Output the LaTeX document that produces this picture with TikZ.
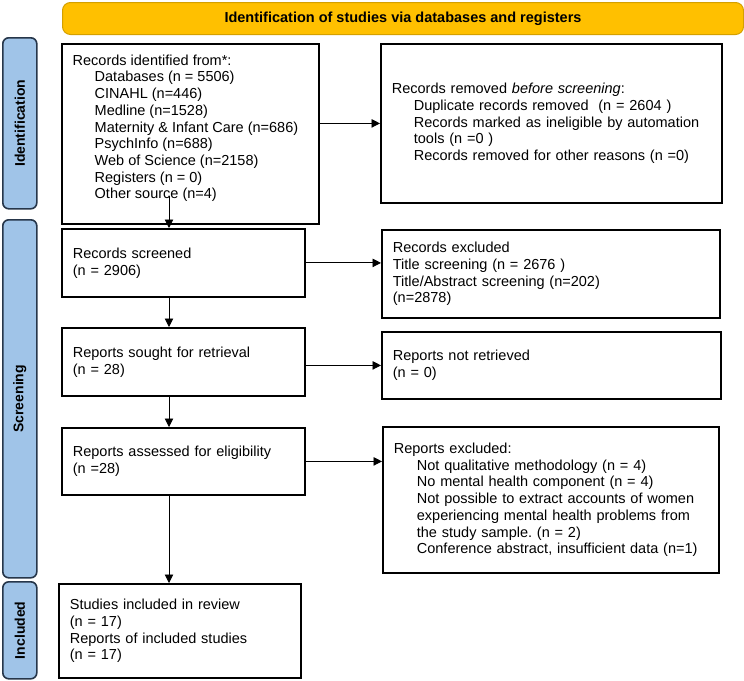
\documentclass[tikz,border=0pt]{standalone}
\usepackage{fontspec}
\setmainfont{Liberation Sans}
\usetikzlibrary{arrows.meta,calc}
\definecolor{bannerfill}{HTML}{FFC000}
\definecolor{bannerline}{HTML}{D4A000}
\definecolor{barfill}{HTML}{A0C4E8}
\definecolor{barline}{HTML}{26364A}
\frenchspacing
\begin{document}
\begin{tikzpicture}[x=1pt,y=-1pt,
  font=\fontsize{14.5}{16.7}\selectfont,
  box/.style={draw=black, line width=1.8pt, anchor=north west, inner xsep=11pt, inner ysep=3pt, align=left},
  bar/.style={draw=barline, fill=barfill, line width=1.6pt, rounded corners=6pt, anchor=north west, inner sep=0pt},
  bartext/.style={rotate=90, font=\fontsize{14}{16}\selectfont\bfseries, inner sep=0pt},
  arr/.style={line width=0.9pt, -{Triangle[length=8.5pt,width=8.5pt]}},
  txt/.style={anchor=north west, align=left, inner sep=0pt}
]
\useasboundingbox (0,0) rectangle (744,680);

% banner
\node[draw=bannerline, fill=bannerfill, line width=1pt, rounded corners=8pt,
      minimum width=681pt, minimum height=32pt, anchor=north west, inner sep=0pt,
      font=\fontsize{14.5}{16.7}\selectfont\bfseries] (banner) at (62,2)
  {Identification of studies via databases and registers};

% side bars
\node[bar, minimum width=34pt, minimum height=171pt] (idbar) at (2,37) {};
\node[bartext] (idlab) at (idbar.center) {Identification};
\node[bar, minimum width=34pt, minimum height=358pt] (scbar) at (2,219) {};
\node[bartext] (sclab) at (scbar.center) {Screening};
\node[bar, minimum width=34pt, minimum height=97pt] (inbar) at (2,581) {};
\node[bartext] (inlab) at (inbar.center) {Included};

% identification
\node[box, minimum width=257pt, minimum height=180pt] (b1) at (61,43) {};
\node[txt] (b1t) at (72.5,54.5) {Records identified from*:\\
\hspace*{22pt}Databases (n = 5506)\\
\hspace*{22pt}CINAHL (n=446)\\
\hspace*{22pt}Medline (n=1528)\\
\hspace*{22pt}Maternity \& Infant Care (n=686)\\
\hspace*{22pt}PsychInfo (n=688)\\
\hspace*{22pt}Web of Science (n=2158)\\
\hspace*{22pt}Registers (n = 0)\\
\hspace*{22pt}Other source (n=4)};

\node[box, text width=319pt, minimum height=159pt] (rem) at (380,43)
{Records removed \emph{before screening}:\\
\hspace*{22pt}\parbox[t]{294pt}{Duplicate records removed\ \ (n = 2604 )\par
Records marked as ineligible by automation\linebreak tools (n =0 )\par
Records removed for other reasons (n =0)}};

% screening
\node[box, text width=221pt, minimum height=68pt] (scr) at (61,228) {Records screened\\(n = 2906)};
\node[box, text width=316pt, minimum height=88pt] (excl) at (381,229)
{Records excluded\\Title screening (n = 2676 )\\Title/Abstract screening (n=202)\\(n=2878)};
\node[box, text width=221pt, minimum height=68pt] (sought) at (61,327) {Reports sought for retrieval\\(n = 28)};
\node[box, text width=317pt, minimum height=67pt] (nr) at (381,331) {Reports not retrieved\\(n = 0)};
\node[box, text width=221pt, minimum height=67pt] (ass) at (61,427) {Reports assessed for eligibility\\(n =28)};
\node[box, text width=314pt, minimum height=146pt] (rex) at (382,426)
{Reports excluded:\\
\hspace*{23pt}\parbox[t]{289pt}{Not qualitative methodology (n = 4)\par
No mental health component (n = 4)\par
Not possible to extract accounts of women\linebreak experiencing mental health problems from\linebreak the study sample. (n = 2)\par
Conference abstract, insufficient data (n=1)}};

% included
\node[box, text width=220pt, minimum height=94pt] (inc) at (58,583)
{Studies included in review\\(n = 17)\\Reports of included studies\\(n = 17)};

% connectors
\coordinate (spine) at (169,196);
\draw[arr] (spine) -- (spine |- scr.north);
\draw[arr] (b1.east |- rem.west) -- (rem.west);
\draw[arr] (scr.east) -- (scr.east -| excl.west);
\draw[arr] (scr.south -| spine) -- (sought.north -| spine);
\draw[arr] (sought.east |- nr.west) -- (nr.west);
\draw[arr] (sought.south -| spine) -- (ass.north -| spine);
\draw[arr] (ass.east) -- (ass.east -| rex.west);
\draw[arr] (ass.south -| spine) -- (inc.north -| spine);
\end{tikzpicture}
\end{document}
